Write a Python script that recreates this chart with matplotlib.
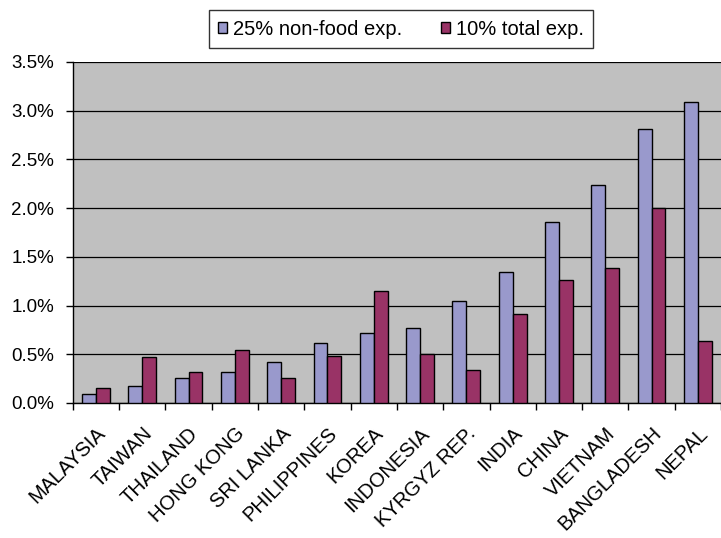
import matplotlib.pyplot as plt
import numpy as np
from matplotlib.ticker import FuncFormatter, MultipleLocator

plt.rcParams['font.family'] = ['Liberation Sans', 'DejaVu Sans']

countries = ['MALAYSIA', 'TAIWAN', 'THAILAND', 'HONG KONG', 'SRI LANKA', 'PHILIPPINES',
             'KOREA', 'INDONESIA', 'KYRGYZ REP.', 'INDIA', 'CHINA', 'VIETNAM',
             'BANGLADESH', 'NEPAL']
non_food = [0.09, 0.175, 0.26, 0.32, 0.42, 0.62, 0.72, 0.77, 1.05, 1.345, 1.855, 2.235, 2.81, 3.09]
total = [0.157, 0.47, 0.32, 0.54, 0.257, 0.486, 1.15, 0.50, 0.34, 0.915, 1.26, 1.38, 2.005, 0.635]

fig = plt.figure(figsize=(7.21, 5.38), dpi=100)
ax = fig.add_axes([0.101, 0.251, 0.899, 0.634])
ax.set_facecolor('#c0c0c0')

x = np.arange(len(countries))
w = 0.3
ax.bar(x - w / 2, non_food, w, color='#9999cc', edgecolor='black', linewidth=1,
       label='25% non-food exp.', zorder=3)
ax.bar(x + w / 2, total, w, color='#993366', edgecolor='black', linewidth=1,
       label='10% total exp.', zorder=3)

ax.set_xlim(-0.5, len(countries) - 0.5)
ax.set_ylim(0, 3.5)
ax.yaxis.set_major_locator(MultipleLocator(0.5))
ax.yaxis.set_major_formatter(FuncFormatter(lambda v, p: f'{v:.1f}%'))
ax.grid(axis='y', color='black', linewidth=0.9, zorder=1)

ax.set_xticks(x)
ax.set_xticklabels(countries, rotation=45, ha='right', rotation_mode='anchor', fontsize=14.5)
ax.tick_params(axis='x', which='major', length=0, pad=15)
ax.set_xticks(np.arange(len(countries) + 1) - 0.5, minor=True)
ax.tick_params(axis='x', which='minor', length=5, direction='out', width=1)
ax.tick_params(axis='y', length=5, direction='out', width=1, labelsize=13.5, pad=8.5)

for s in ['top', 'right']:
    ax.spines[s].set_visible(False)
ax.spines['left'].set_linewidth(1)
ax.spines['bottom'].set_linewidth(1)

leg = fig.legend(loc='center', bbox_to_anchor=(0.556, 0.946), ncol=2, fontsize=14.5,
                 frameon=True, fancybox=False, edgecolor='black', handlelength=0.45,
                 handleheight=0.45, handletextpad=0.3, columnspacing=1.9, borderpad=0.45,
                 borderaxespad=0)
leg.get_frame().set_linewidth(1)

fig.savefig('out.png', dpi=100)
plt.close()
